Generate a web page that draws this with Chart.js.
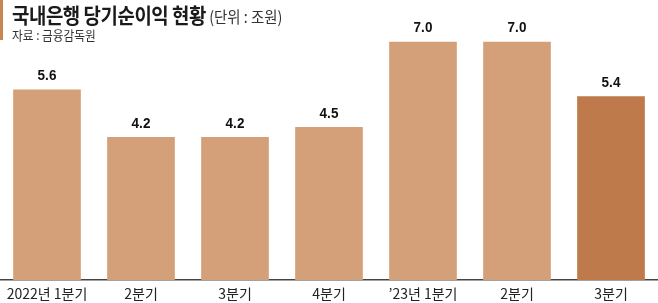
<!DOCTYPE html>
<html>
<head>
<meta charset="utf-8">
<script src="https://cdn.jsdelivr.net/npm/chart.js@4"></script>
<style>
  html, body { margin: 0; padding: 0; background: #fff; }
  #wrap { position: relative; width: 658px; height: 303px; overflow: hidden; }
  #chart { position: absolute; left: 0; top: 0; }
  .stripe { position: absolute; left: 0; top: 0; width: 3px; height: 40px; background: #c8854f; }
  .title { position: absolute; left: 12px; top: -1px; white-space: nowrap;
           font-family: "Noto Sans CJK KR", sans-serif; color: #1a1a1a;
           transform: scaleX(0.9); transform-origin: left top; }
  .title b { font-size: 21px; font-weight: 700; letter-spacing: -0.5px; }
  .title span { font-size: 16px; font-weight: 400; color: #333; }
  .src { position: absolute; left: 12px; top: 25px; white-space: nowrap;
         font-family: "Noto Sans CJK KR", sans-serif; font-size: 13px; color: #333;
         transform: scaleX(0.9); transform-origin: left top; }
</style>
</head>
<body>
<div id="wrap">
  <canvas id="chart" width="658" height="303"></canvas>
  <div class="stripe"></div>
  <div class="title"><b>국내은행 당기순이익 현황</b> <span>(단위 : 조원)</span></div>
  <div class="src">자료 : 금융감독원</div>
</div>
<script>
/* =====================
   DATA
===================== */
const quarters = ["2022년 1분기", "2분기", "3분기", "4분기", "’23년 1분기", "2분기", "3분기"];
const netIncome = [5.6, 4.2, 4.2, 4.5, 7.0, 7.0, 5.4];

const barColor = "#d4a07a";
const lastColor = "#be7a4a";

/* =====================
   LABELS ON BARS
===================== */
const valueLabels = {
  id: "valueLabels",
  afterDatasetsDraw(chart) {
    const ctx = chart.ctx;
    const meta = chart.getDatasetMeta(0);
    ctx.save();
    ctx.fillStyle = "#111";
    ctx.font = "bold 15px 'Liberation Sans', sans-serif";
    ctx.textAlign = "center";
    ctx.textBaseline = "bottom";
    meta.data.forEach((bar, i) => {
      ctx.save();
      ctx.translate(bar.x, bar.y - 6);
      ctx.scale(0.9, 1);
      ctx.fillText(netIncome[i].toFixed(1), 0, 0);
      ctx.restore();
    });
    ctx.restore();
  }
};

new Chart(document.getElementById("chart"), {
  type: "bar",
  data: {
    labels: quarters,
    datasets: [{
      data: netIncome,
      backgroundColor: netIncome.map((v, i) => i === netIncome.length - 1 ? lastColor : barColor),
      barPercentage: 0.72,
      categoryPercentage: 1
    }]
  },
  options: {
    responsive: false,
    animation: false,
    layout: { padding: 0 },
    plugins: { legend: { display: false }, tooltip: { enabled: false } },
    scales: {
      x: {
        afterFit(scale) { scale.height = 23; },
        grid: { display: false, drawTicks: false },
        border: { display: true, color: "#444", width: 1.5 },
        ticks: {
          color: "#222",
          padding: 5,
          maxRotation: 0,
          autoSkip: false,
          font: { family: "'Noto Sans CJK KR', sans-serif", size: 14 }
        }
      },
      y: {
        display: false,
        min: 0,
        max: 8.23
      }
    }
  },
  plugins: [valueLabels]
});
</script>
</body>
</html>
